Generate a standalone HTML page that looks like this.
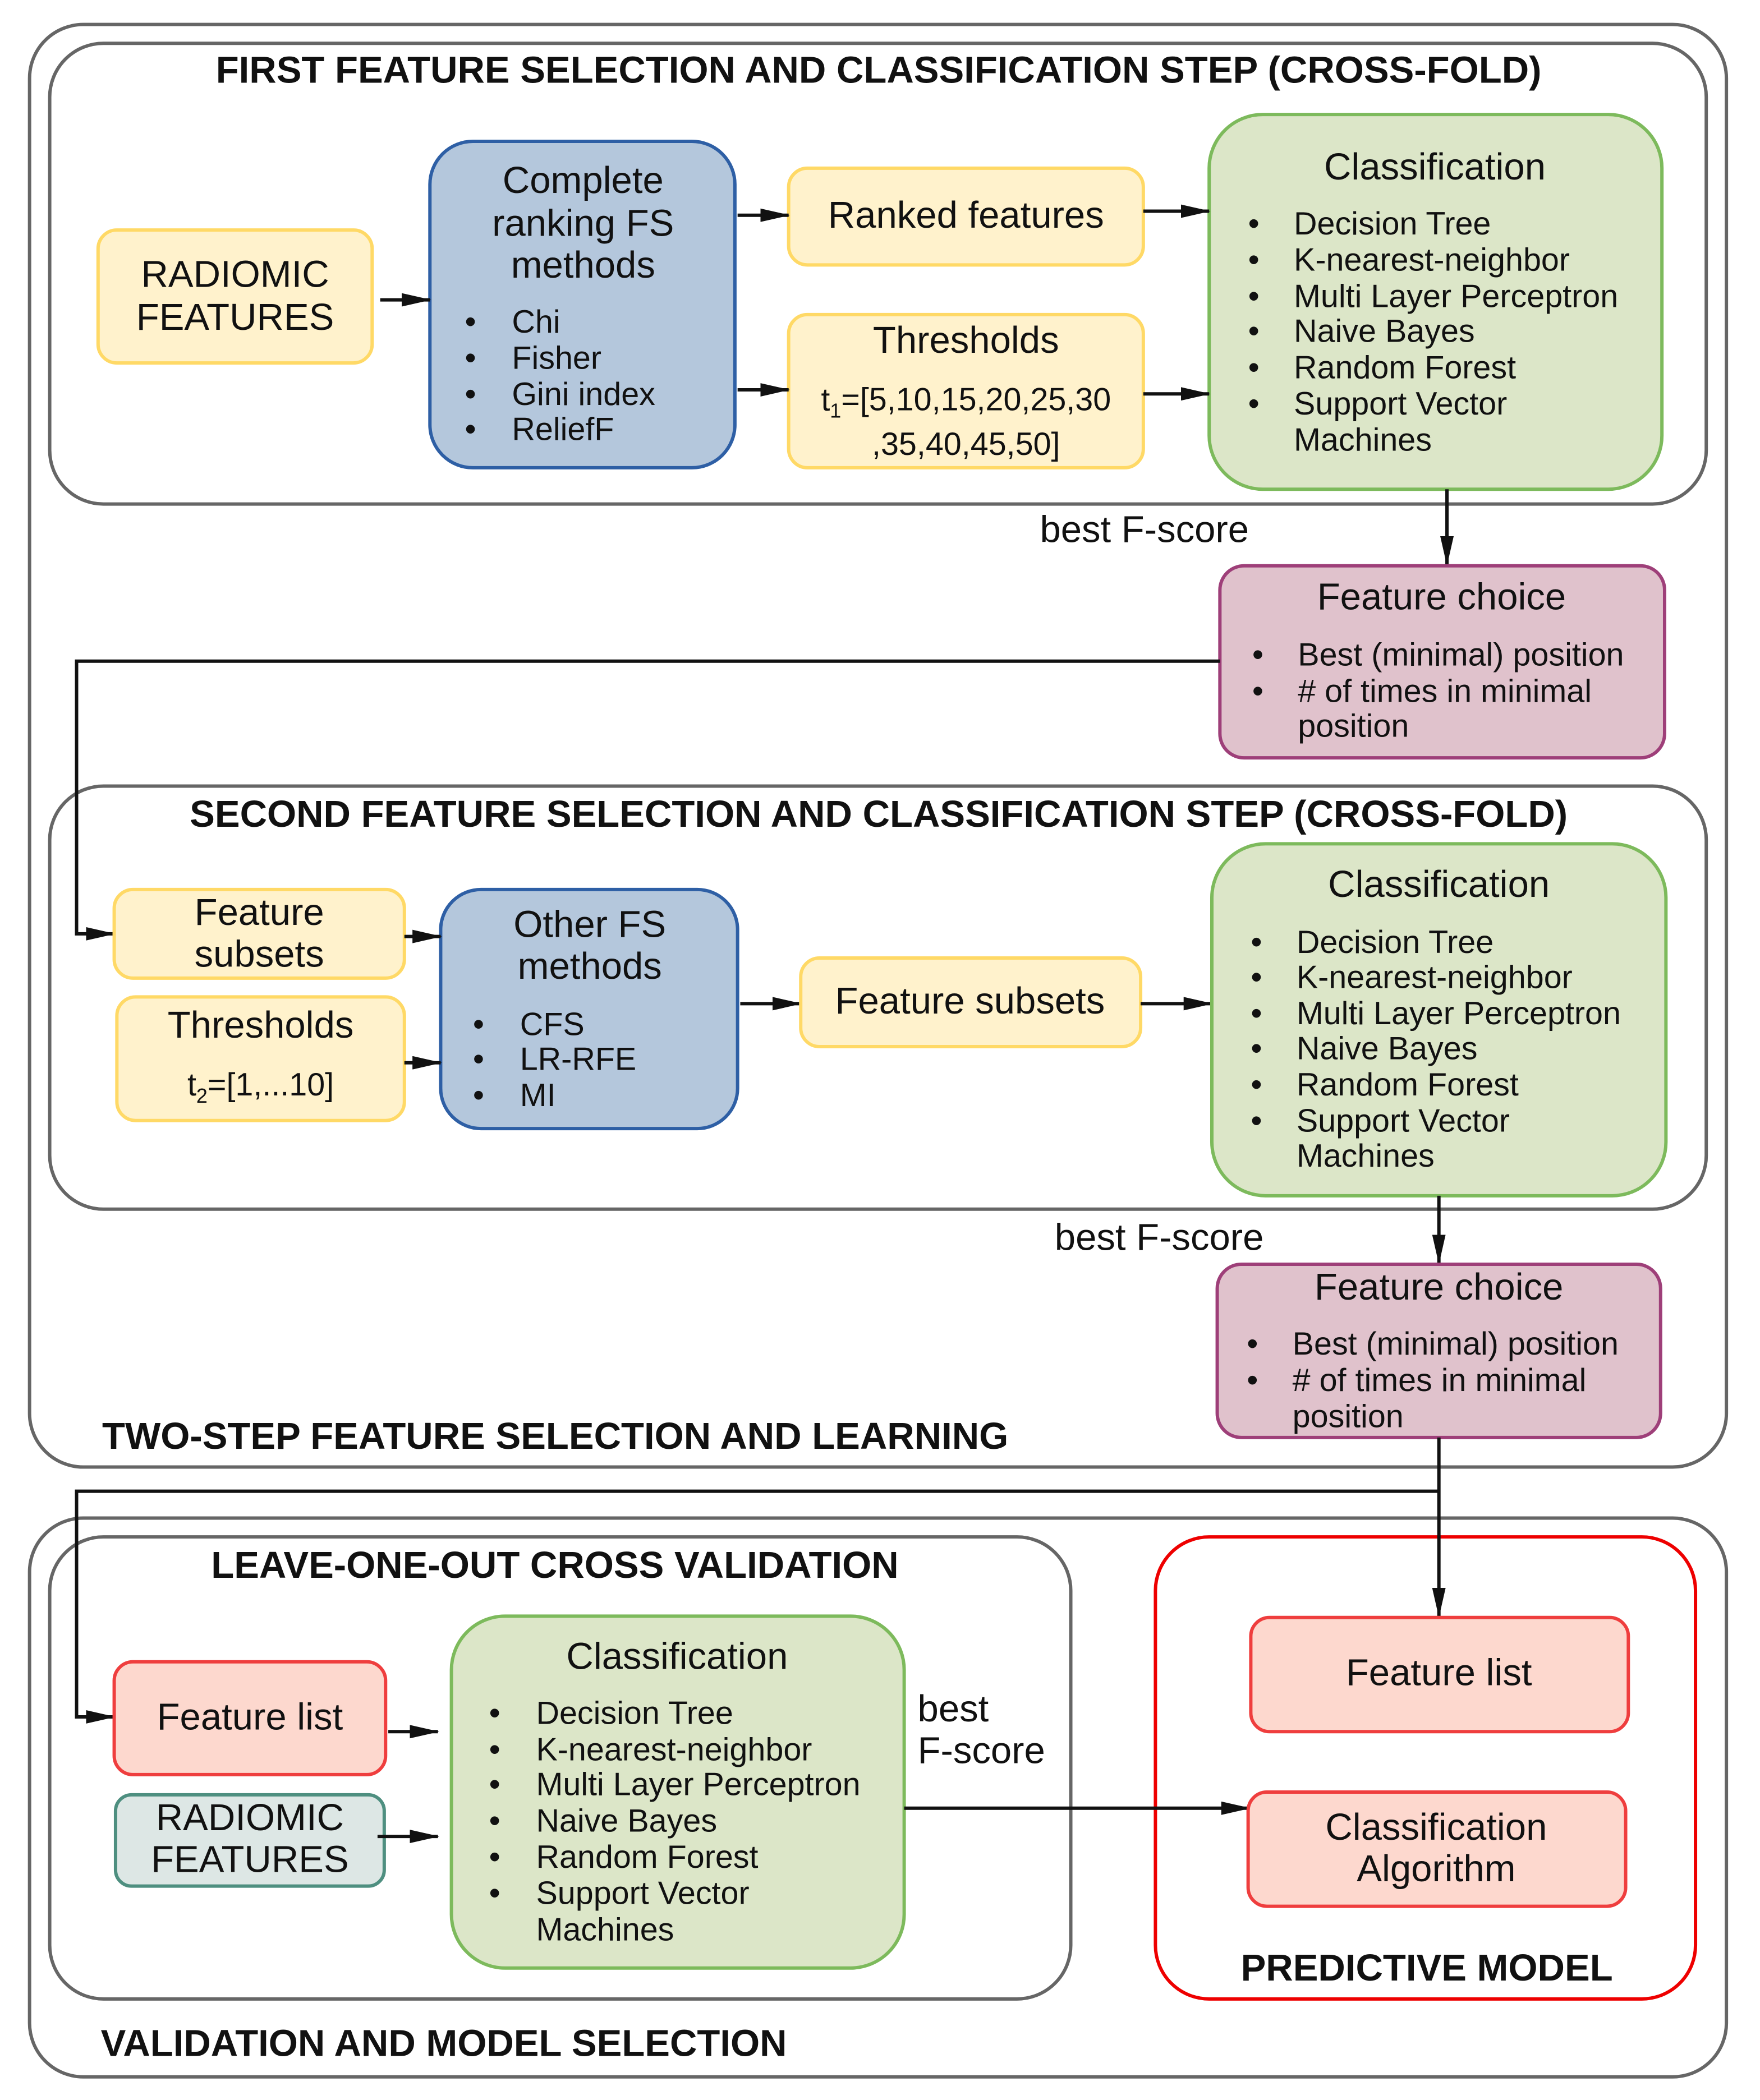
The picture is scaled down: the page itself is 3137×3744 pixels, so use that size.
<!DOCTYPE html>
<html><head><meta charset="utf-8"><style>
html,body{margin:0;padding:0;background:#fff;}
svg{display:block;}
text{font-family:"Liberation Sans",sans-serif;fill:#111;dominant-baseline:middle;}
.t{font-size:28px;text-anchor:middle;}
.s{font-size:28px;}
.b{font-size:24px;}
.h{font-size:28px;font-weight:bold;}
.ln{stroke:#111;stroke-width:2.5;fill:none;}
</style></head><body>
<svg width="3137" height="3744" viewBox="0 0 1310 1563" xmlns="http://www.w3.org/2000/svg">
<defs>
<marker id="m" markerWidth="22" markerHeight="10" refX="21" refY="5" orient="auto" markerUnits="userSpaceOnUse"><path d="M0,0 L22,5 L0,10z" fill="#111"/></marker></defs>
<rect x="0" y="0" width="1310" height="1563" fill="#fff"/>
<!-- outer boxes -->
<rect x="22" y="18" width="1263" height="1074" rx="40" fill="none" stroke="#666" stroke-width="2.5"/>
<rect x="37" y="32" width="1233" height="343" rx="40" fill="none" stroke="#666" stroke-width="2.5"/>
<text class="h" x="654" y="54" style="text-anchor:middle">FIRST FEATURE SELECTION AND CLASSIFICATION STEP (CROSS-FOLD)</text>
<rect x="37" y="585" width="1233" height="315" rx="40" fill="none" stroke="#666" stroke-width="2.5"/>
<text class="h" x="654" y="608" style="text-anchor:middle">SECOND FEATURE SELECTION AND CLASSIFICATION STEP (CROSS-FOLD)</text>
<text class="h" x="76" y="1071">TWO-STEP FEATURE SELECTION AND LEARNING</text>
<rect x="22" y="1130" width="1263" height="416" rx="40" fill="none" stroke="#666" stroke-width="2.5"/>
<rect x="37" y="1144" width="760" height="344" rx="40" fill="none" stroke="#666" stroke-width="2.5"/>
<text class="h" x="413" y="1167" style="text-anchor:middle">LEAVE-ONE-OUT CROSS VALIDATION</text>
<rect x="860" y="1144" width="402" height="344" rx="40" fill="none" stroke="#e00" stroke-width="2.5"/>
<text class="h" x="1062" y="1467" style="text-anchor:middle">PREDICTIVE MODEL</text>
<text class="h" x="75" y="1523">VALIDATION AND MODEL SELECTION</text>

<!-- step 1 -->
<rect x="73" y="171" width="204" height="99" rx="14" fill="#fff2cc" stroke="#ffd966" stroke-width="2.5"/>
<text class="t" x="175" y="206">RADIOMIC</text><text class="t" x="175" y="238">FEATURES</text>
<rect x="320" y="105" width="227" height="243" rx="32" fill="#b4c7dc" stroke="#2e5fa5" stroke-width="2.5"/>
<text class="t" x="434" y="136">Complete</text><text class="t" x="434" y="168">ranking FS</text><text class="t" x="434" y="199">methods</text>
<text class="b" x="346" y="241">•</text><text class="b" x="381" y="241">Chi</text>
<text class="b" x="346" y="268">•</text><text class="b" x="381" y="268">Fisher</text>
<text class="b" x="346" y="295">•</text><text class="b" x="381" y="295">Gini index</text>
<text class="b" x="346" y="321">•</text><text class="b" x="381" y="321">ReliefF</text>
<rect x="587" y="125" width="264" height="72" rx="14" fill="#fff2cc" stroke="#ffd966" stroke-width="2.5"/>
<text class="t" x="719" y="162">Ranked features</text>
<rect x="587" y="234" width="264" height="114" rx="14" fill="#fff2cc" stroke="#ffd966" stroke-width="2.5"/>
<text class="t" x="719" y="255">Thresholds</text>
<text class="b" x="719" y="299" style="text-anchor:middle">t<tspan font-size="15" dy="8">1</tspan><tspan dy="-8">=[5,10,15,20,25,30</tspan></text>
<text class="b" x="719" y="332" style="text-anchor:middle">,35,40,45,50]</text>
<rect x="900" y="85" width="337" height="279" rx="40" fill="#dce6c8" stroke="#7dba5c" stroke-width="2.5"/>
<text class="t" x="1068" y="126">Classification</text>
<text class="b" x="929" y="168">•</text><text class="b" x="963" y="168">Decision Tree</text>
<text class="b" x="929" y="195">•</text><text class="b" x="963" y="195">K-nearest-neighbor</text>
<text class="b" x="929" y="222">•</text><text class="b" x="963" y="222">Multi Layer Perceptron</text>
<text class="b" x="929" y="248">•</text><text class="b" x="963" y="248">Naive Bayes</text>
<text class="b" x="929" y="275">•</text><text class="b" x="963" y="275">Random Forest</text>
<text class="b" x="929" y="302">•</text><text class="b" x="963" y="302">Support Vector</text>
<text class="b" x="963" y="329">Machines</text>
<path class="ln" d="M283,223 H320" marker-end="url(#m)"/>
<path class="ln" d="M549,160 H587" marker-end="url(#m)"/>
<path class="ln" d="M549,290 H587" marker-end="url(#m)"/>
<path class="ln" d="M851,157 H900" marker-end="url(#m)"/>
<path class="ln" d="M851,293 H900" marker-end="url(#m)"/>
<text class="s" x="774" y="396">best F-score</text>
<path class="ln" d="M1077,364 V420" marker-end="url(#m)"/>
<rect x="908" y="421" width="331" height="143" rx="18" fill="#e0c2cc" stroke="#9e3f79" stroke-width="2.5"/>
<text class="t" x="1073" y="446">Feature choice</text>
<text class="b" x="932" y="489">•</text><text class="b" x="966" y="489">Best (minimal) position</text>
<text class="b" x="932" y="516">•</text><text class="b" x="966" y="516"># of times in minimal</text>
<text class="b" x="966" y="542">position</text>
<path class="ln" d="M908,492 H57 V695 H85" marker-end="url(#m)"/>

<!-- step 2 -->
<rect x="85" y="662" width="216" height="66" rx="14" fill="#fff2cc" stroke="#ffd966" stroke-width="2.5"/>
<text class="t" x="193" y="681">Feature</text><text class="t" x="193" y="712">subsets</text>
<rect x="87" y="742" width="214" height="92" rx="14" fill="#fff2cc" stroke="#ffd966" stroke-width="2.5"/>
<text class="t" x="194" y="765">Thresholds</text>
<text class="b" x="194" y="809" style="text-anchor:middle">t<tspan font-size="15" dy="8">2</tspan><tspan dy="-8">=[1,...10]</tspan></text>
<rect x="328" y="662" width="221" height="178" rx="30" fill="#b4c7dc" stroke="#2e5fa5" stroke-width="2.5"/>
<text class="t" x="439" y="690">Other FS</text><text class="t" x="439" y="721">methods</text>
<text class="b" x="352" y="764">•</text><text class="b" x="387" y="764">CFS</text>
<text class="b" x="352" y="790">•</text><text class="b" x="387" y="790">LR-RFE</text>
<text class="b" x="352" y="817">•</text><text class="b" x="387" y="817">MI</text>
<path class="ln" d="M301,697 H328" marker-end="url(#m)"/>
<path class="ln" d="M301,791 H328" marker-end="url(#m)"/>
<path class="ln" d="M551,747 H596" marker-end="url(#m)"/>
<rect x="596" y="713" width="253" height="66" rx="14" fill="#fff2cc" stroke="#ffd966" stroke-width="2.5"/>
<text class="t" x="722" y="747">Feature subsets</text>
<path class="ln" d="M849,747 H902" marker-end="url(#m)"/>
<rect x="902" y="628" width="338" height="262" rx="40" fill="#dce6c8" stroke="#7dba5c" stroke-width="2.5"/>
<text class="t" x="1071" y="660">Classification</text>
<text class="b" x="931" y="703">•</text><text class="b" x="965" y="703">Decision Tree</text>
<text class="b" x="931" y="729">•</text><text class="b" x="965" y="729">K-nearest-neighbor</text>
<text class="b" x="931" y="756">•</text><text class="b" x="965" y="756">Multi Layer Perceptron</text>
<text class="b" x="931" y="782">•</text><text class="b" x="965" y="782">Naive Bayes</text>
<text class="b" x="931" y="809">•</text><text class="b" x="965" y="809">Random Forest</text>
<text class="b" x="931" y="836">•</text><text class="b" x="965" y="836">Support Vector</text>
<text class="b" x="965" y="862">Machines</text>
<text class="s" x="785" y="923">best F-score</text>
<path class="ln" d="M1071,890 V940" marker-end="url(#m)"/>
<rect x="906" y="941" width="330" height="129" rx="18" fill="#e0c2cc" stroke="#9e3f79" stroke-width="2.5"/>
<text class="t" x="1071" y="960">Feature choice</text>
<text class="b" x="928" y="1002">•</text><text class="b" x="962" y="1002">Best (minimal) position</text>
<text class="b" x="928" y="1029">•</text><text class="b" x="962" y="1029"># of times in minimal</text>
<text class="b" x="962" y="1056">position</text>
<path class="ln" d="M1071,1070 V1203" marker-end="url(#m)"/>
<path class="ln" d="M1071,1110 H57 V1278 H85" marker-end="url(#m)"/>

<!-- validation -->
<rect x="85" y="1237" width="202" height="84" rx="14" fill="#fdd8ce" stroke="#ef3e3e" stroke-width="2.5"/>
<text class="t" x="186" y="1280">Feature list</text>
<rect x="86" y="1336" width="200" height="68" rx="12" fill="#dde7e5" stroke="#4e8f80" stroke-width="2.5"/>
<text class="t" x="186" y="1355">RADIOMIC</text><text class="t" x="186" y="1386">FEATURES</text>
<path class="ln" d="M289,1289 H326" marker-end="url(#m)"/>
<path class="ln" d="M281,1367 H326" marker-end="url(#m)"/>
<rect x="336" y="1203" width="337" height="262" rx="40" fill="#dce6c8" stroke="#7dba5c" stroke-width="2.5"/>
<text class="t" x="504" y="1235">Classification</text>
<text class="b" x="364" y="1277">•</text><text class="b" x="399" y="1277">Decision Tree</text>
<text class="b" x="364" y="1304">•</text><text class="b" x="399" y="1304">K-nearest-neighbor</text>
<text class="b" x="364" y="1330">•</text><text class="b" x="399" y="1330">Multi Layer Perceptron</text>
<text class="b" x="364" y="1357">•</text><text class="b" x="399" y="1357">Naive Bayes</text>
<text class="b" x="364" y="1384">•</text><text class="b" x="399" y="1384">Random Forest</text>
<text class="b" x="364" y="1411">•</text><text class="b" x="399" y="1411">Support Vector</text>
<text class="b" x="399" y="1438">Machines</text>
<text class="s" x="683" y="1274">best</text>
<text class="s" x="683" y="1305">F-score</text>
<path class="ln" d="M673,1346 H930" marker-end="url(#m)"/>
<rect x="931" y="1204" width="281" height="85" rx="14" fill="#fdd8ce" stroke="#ef3e3e" stroke-width="2.5"/>
<text class="t" x="1071" y="1247">Feature list</text>
<rect x="929" y="1334" width="281" height="85" rx="14" fill="#fdd8ce" stroke="#ef3e3e" stroke-width="2.5"/>
<text class="t" x="1069" y="1362">Classification</text><text class="t" x="1069" y="1393">Algorithm</text>
</svg>
</body></html>
